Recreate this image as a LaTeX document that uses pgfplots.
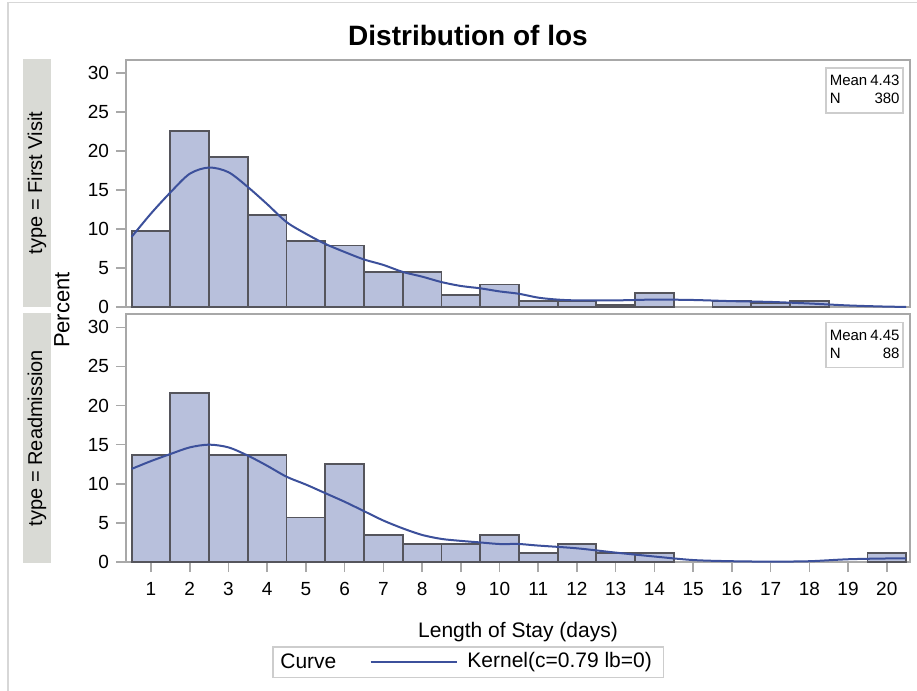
\documentclass[border=0pt]{standalone}
\usepackage{fontspec}
\setmainfont{Liberation Sans}
\usepackage{pgfplots}
\pgfplotsset{compat=1.18}
\definecolor{barfill}{RGB}{184,192,220}
\definecolor{bardraw}{RGB}{85,85,92}
\definecolor{curvecol}{RGB}{60,80,155}
\definecolor{stripcol}{RGB}{217,218,213}
\definecolor{framegray}{RGB}{168,168,168}
\definecolor{boxgray}{RGB}{205,205,205}
\definecolor{outergray}{RGB}{215,215,215}
\pgfplotsset{
  panel/.style={
    scale only axis, width=392pt, height=123.5pt,
    xmin=0.354, xmax=20.6, ymin=0, ymax=31.7,
    ytick={0,5,...,30},
    tick align=outside, major tick length=5pt,
    axis line style={framegray, line width=0.9pt},
    every tick/.style={framegray, line width=0.8pt},
    tick label style={font=\fontsize{9.5}{11}\selectfont},
    xticklabel style={yshift=-1.5pt},
    /pgf/number format/assume math mode=true,
    ytick pos=left, xtick pos=bottom,
  },
  bars/.style={ybar, bar width=1, bar shift=0pt, fill=barfill, draw=bardraw, line width=0.9pt},
  kern/.style={smooth, curvecol, line width=1pt, mark=none},
}
\begin{document}
\begin{tikzpicture}
\path[use as bounding box] (0,0) rectangle (458.5pt,-345.5pt);
\draw[outergray, line width=0.8pt] (4pt,-345.5pt) -- (4pt,-1.25pt) -- (458.5pt,-1.25pt);
% title
\node[font=\fontsize{14}{16}\selectfont\bfseries] at (234pt,-17.5pt) {Distribution of los};
% strips
\fill[stripcol] (11.5pt,-29.5pt) rectangle (25.5pt,-153.5pt);
\fill[stripcol] (11.5pt,-156.5pt) rectangle (25.5pt,-281.5pt);
\node[rotate=90, font=\fontsize{10}{12}\selectfont] at (18.5pt,-91.5pt) {type = First Visit};
\node[rotate=90, font=\fontsize{10}{12}\selectfont] at (18.5pt,-219pt) {type = Readmission};
\node[rotate=90, font=\fontsize{11}{13}\selectfont] at (31pt,-155pt) {Percent};

\begin{axis}[panel, at={(63pt,-30pt)}, anchor=north west, xtick=\empty]
\addplot[bars] coordinates {
(1,9.74) (2,22.63) (3,19.21) (4,11.84) (5,8.42) (6,7.89) (7,4.47) (8,4.47)
(9,1.58) (10,2.89) (11,0.79) (12,0.79) (13,0.26) (14,1.84) (16,0.79) (17,0.53) (18,0.79)};
\addplot[kern] coordinates {
(0.5,9.0) (1,12.0) (1.5,14.7) (2,17.1) (2.5,17.9) (3,17.3) (3.5,15.4) (4,13.2)
(4.5,10.9) (5,9.4) (5.5,8.1) (6,7.06) (6.5,6.1) (7,5.4) (7.5,4.5) (8,3.9)
(8.5,3.2) (9,2.7) (9.5,2.4) (10,2.0) (10.5,1.7) (11,1.2) (11.5,0.95) (12,0.85)
(13,0.85) (14,0.95) (15,0.9) (16,0.75) (17,0.65) (18,0.45) (19,0.2) (20,0.05) (20.5,0.02)};
\node[draw=boxgray, line width=0.8pt, fill=white, anchor=north east, inner sep=0pt,
  minimum width=38.5pt, minimum height=22.5pt] (sb1) at (rel axis cs:0.9923,0.9717) {};
\node[anchor=base west, inner sep=0pt, font=\fontsize{7.5}{9}\selectfont] at ([xshift=2pt,yshift=-9.5pt]sb1.north west) {Mean};
\node[anchor=base east, inner sep=0pt, font=\fontsize{7.5}{9}\selectfont] at ([xshift=-2pt,yshift=-9.5pt]sb1.north east) {4.43};
\node[anchor=base west, inner sep=0pt, font=\fontsize{7.5}{9}\selectfont] at ([xshift=2pt,yshift=-18.5pt]sb1.north west) {N};
\node[anchor=base east, inner sep=0pt, font=\fontsize{7.5}{9}\selectfont] at ([xshift=-2pt,yshift=-18.5pt]sb1.north east) {380};
\end{axis}

\begin{axis}[panel, at={(63pt,-157pt)}, anchor=north west, height=124pt, xtick={1,...,20}]
\addplot[bars] coordinates {
(1,13.64) (2,21.59) (3,13.64) (4,13.64) (5,5.68) (6,12.5) (7,3.41) (8,2.27)
(9,2.27) (10,3.41) (11,1.14) (12,2.27) (13,1.14) (14,1.14) (20,1.14)};
\addplot[kern] coordinates {
(0.5,11.9) (1,12.9) (1.5,13.8) (2,14.65) (2.5,15.0) (3,14.65) (3.5,13.6) (4,12.3)
(4.5,10.9) (5,9.9) (5.5,8.8) (6,7.7) (6.5,6.5) (7,5.3) (7.5,4.3) (8,3.46)
(8.5,2.95) (9,2.7) (9.5,2.5) (10,2.3) (10.5,2.3) (11,2.1) (12,1.75) (13,1.2)
(14,0.7) (15,0.25) (16,0.1) (17,0.05) (18,0.1) (19,0.35) (20,0.45) (20.5,0.45)};
\node[draw=boxgray, line width=0.8pt, fill=white, anchor=north east, inner sep=0pt,
  minimum width=38.5pt, minimum height=22.5pt] (sb2) at (rel axis cs:0.9923,0.969) {};
\node[anchor=base west, inner sep=0pt, font=\fontsize{7.5}{9}\selectfont] at ([xshift=2pt,yshift=-9.5pt]sb2.north west) {Mean};
\node[anchor=base east, inner sep=0pt, font=\fontsize{7.5}{9}\selectfont] at ([xshift=-2pt,yshift=-9.5pt]sb2.north east) {4.45};
\node[anchor=base west, inner sep=0pt, font=\fontsize{7.5}{9}\selectfont] at ([xshift=2pt,yshift=-18.5pt]sb2.north west) {N};
\node[anchor=base east, inner sep=0pt, font=\fontsize{7.5}{9}\selectfont] at ([xshift=-2pt,yshift=-18.5pt]sb2.north east) {88};
\end{axis}

% x label
\node[anchor=base, font=\fontsize{10.5}{12}\selectfont] at (259pt,-318.7pt) {Length of Stay (days)};
% legend
\draw[boxgray, line width=0.8pt, fill=white] (136.35pt,-323.35pt) rectangle (331.65pt,-338.65pt);
\node[anchor=west, inner sep=0pt, font=\fontsize{10.5}{12}\selectfont] at (140pt,-330.85pt) {Curve};
\draw[curvecol, line width=1pt] (185.35pt,-330.85pt) -- (228.65pt,-330.85pt);
\node[anchor=west, inner sep=0pt, font=\fontsize{10.5}{12}\selectfont] at (233.5pt,-330.85pt) {Kernel(c=0.79 lb=0)};
\end{tikzpicture}
\end{document}
